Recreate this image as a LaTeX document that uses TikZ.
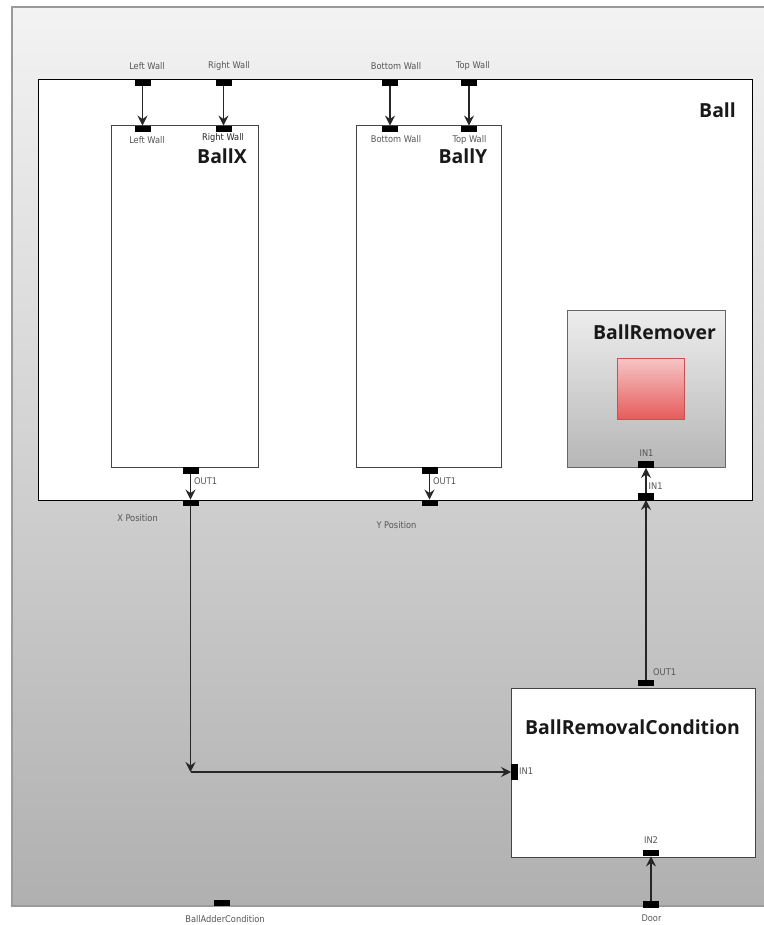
\documentclass[tikz,border=0pt]{standalone}
\usepackage{fontspec}
\setmainfont{DejaVu Sans}
\newfontfamily\labelfont{DejaVu Sans Condensed}
\newfontfamily\titlefont{Open Sans}
\usetikzlibrary{arrows.meta}
\definecolor{canvastop}{HTML}{F3F3F3}
\definecolor{canvasbot}{HTML}{B0B0B0}
\definecolor{canvasline}{HTML}{9A9A9A}
\definecolor{boxline}{HTML}{444444}
\definecolor{labelgray}{HTML}{555555}
\definecolor{remtop}{HTML}{EDEDED}
\definecolor{rembot}{HTML}{B6B6B6}
\definecolor{redtop}{HTML}{F6C6C6}
\definecolor{redbot}{HTML}{E65C5C}
\definecolor{redline}{HTML}{C85050}
\tikzset{
  block/.style={draw=boxline, line width=0.9pt, fill=white, inner sep=0pt},
  hport/.style={fill=black, draw=none, minimum width=16pt, minimum height=6.5pt, inner sep=0pt},
  vport/.style={fill=black, draw=none, minimum width=6.5pt, minimum height=16pt, inner sep=0pt},
  portlabel/.style={font=\labelfont\fontsize{9.2}{10}\selectfont, text=labelgray, inner sep=0pt},
  title/.style={font=\titlefont\bfseries\fontsize{19.4}{20}\selectfont, text=black!90, inner sep=0pt},
  flow/.style={draw=black!85, line width=1.3pt, -{Stealth[length=10pt,width=10pt,inset=3.5pt]}},
}
\begin{document}
\begin{tikzpicture}[x=1pt, y=-1pt]
\useasboundingbox (0,0) rectangle (763,925);

% background canvas of the enclosing block
\shade[top color=canvastop, bottom color=canvasbot] (12,7) rectangle (775,906);
\draw[canvasline, line width=1.6pt] (775,7) -- (12,7) -- (12,906) -- (775,906);

% Ball block and its children
\node[block, draw=black, minimum width=714pt, minimum height=421pt] (ball) at (395,289.5) {};
\node[title, anchor=center] (balltitle) at (717.5,110) {Ball};

\node[block, minimum width=147pt, minimum height=342pt] (ballx) at (184.5,296) {};
\node[title] (ballxtitle) at (222,156) {BallX};

\node[block, minimum width=145pt, minimum height=342pt] (bally) at (428.5,296) {};
\node[title] (ballytitle) at (463,156) {BallY};

% BallRemover with its shaded body and red indicator
\node[draw=black!60, line width=0.9pt, top color=remtop, bottom color=rembot,
      minimum width=158pt, minimum height=157pt, inner sep=0pt] (remover) at (646,388.5) {};
\node[title] (removertitle) at (654.5,332) {BallRemover};
\node[draw=redline, line width=0.6pt, top color=redtop, bottom color=redbot,
      minimum width=67pt, minimum height=61pt, inner sep=0pt] (indicator) at (650.5,388.5) {};

% BallRemovalCondition block
\node[block, minimum width=244pt, minimum height=169pt] (brc) at (633,772.5) {};
\node[title] (brctitle) at (632.5,727) {BallRemovalCondition};

% ports on the Ball boundary (top)
\node[hport] (pLW) at (142.5,82.5) {};
\node[hport] (pRW) at (223.5,82.5) {};
\node[hport] (pBW) at (390,82.5) {};
\node[hport] (pTW) at (469,82.5) {};
\node[portlabel] at (147,66) {Left Wall};
\node[portlabel] at (229,66) {Right Wall};
\node[portlabel] at (396,66) {Bottom Wall};
\node[portlabel] at (473,66) {Top Wall};

% input ports of BallX and BallY
\node[hport] (xLW) at (142.5,129) {};
\node[hport] (xRW) at (223.5,129) {};
\node[hport] (yBW) at (390,129) {};
\node[hport] (yTW) at (469,129) {};
\node[portlabel] at (147,140.5) {Left Wall};
\node[portlabel, text=black!85] at (223,138) {Right Wall};
\node[portlabel] at (396,139.5) {Bottom Wall};
\node[portlabel] at (469.5,139.5) {Top Wall};

% output ports of BallX and BallY
\node[hport] (xOut) at (190.5,470.5) {};
\node[hport] (yOut) at (429.5,470.5) {};
\node[portlabel, anchor=west] at (194,481) {OUT1};
\node[portlabel, anchor=west] at (433,481) {OUT1};

% ports on the Ball boundary (bottom)
\node[hport] (pXPos) at (190.5,503) {};
\node[hport] (pYPos) at (429.5,503) {};
\node[hport] (pIn) at (646,496.5) {};
\node[portlabel] at (137.5,518) {X Position};
\node[portlabel] at (396.5,525) {Y Position};
\node[portlabel, anchor=west] at (648.5,486.5) {IN1};

% BallRemover input
\node[hport] (rIn) at (646,464.5) {};
\node[portlabel] at (646.5,453.5) {IN1};

% BallRemovalCondition ports
\node[hport] (cOut) at (646,683) {};
\node[vport] (cIn1) at (514.5,772) {};
\node[hport] (cIn2) at (651,853) {};
\node[portlabel, anchor=west] at (653,672) {OUT1};
\node[portlabel, anchor=west] at (519,771.5) {IN1};
\node[portlabel] at (651,840.5) {IN2};

% ports on the outer boundary (bottom)
\node[hport] (pAdder) at (222,903) {};
\node[hport] (pDoor) at (651,904.5) {};
\node[portlabel] at (225,919) {BallAdderCondition};
\node[portlabel] at (651.5,918.5) {Door};

\coordinate (bend) at (190.5,772);

% connections
\draw[flow] (pLW.south) -- (xLW.north);
\draw[flow] (pRW.south) -- (xRW.north);
\draw[flow] (pBW.south) -- (yBW.north);
\draw[flow] (pTW.south) -- (yTW.north);
\draw[flow] (xOut.south) -- (pXPos.north);
\draw[flow] (yOut.south) -- (pYPos.north);
\draw[flow] (pIn.north) -- (rIn.south);
\draw[flow] (cOut.north) -- (pIn.south);
\draw[flow] (pXPos.south) -- (bend);
\draw[flow] (bend) -- (cIn1.west);
\draw[flow] (pDoor.north) -- (cIn2.south);
\end{tikzpicture}
\end{document}
